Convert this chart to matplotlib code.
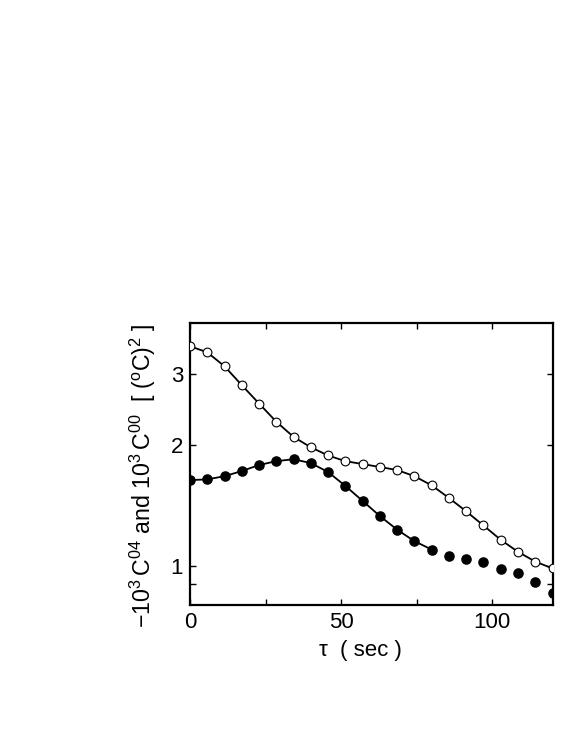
import numpy as np
import matplotlib.pyplot as plt
from matplotlib.ticker import FixedLocator, NullFormatter, FixedFormatter

plt.rcParams['font.family'] = ['Liberation Sans', 'DejaVu Sans']
plt.rcParams['mathtext.fontset'] = 'custom'
plt.rcParams['mathtext.rm'] = 'Liberation Sans'
plt.rcParams['mathtext.it'] = 'Liberation Sans:italic'

# lag times (sec)
tau = [0.0, 5.71, 11.43, 17.14, 22.86, 28.57, 34.29, 40.0, 45.71, 51.43, 57.14,
       62.86, 68.57, 74.29, 80.0, 85.71, 91.43, 97.14, 102.86, 108.57, 114.29, 120.0]

# 10^3 C^00 (open circles)
c00 = [3.51, 3.39, 3.13, 2.81, 2.53, 2.28, 2.09, 1.97, 1.88, 1.82, 1.79,
       1.76, 1.73, 1.67, 1.585, 1.475, 1.366, 1.26, 1.161, 1.084, 1.025, 0.986]

# -10^3 C^04 (filled circles)
c04 = [1.633, 1.64, 1.67, 1.72, 1.78, 1.82, 1.84, 1.80, 1.71, 1.58, 1.45,
       1.33, 1.23, 1.152, 1.098, 1.061, 1.041, 1.021, 0.983, 0.958, 0.91, 0.855]

n_line04 = 15  # solid line drawn through the first points only

fig = plt.figure(figsize=(5.81, 7.52), dpi=100)
ax = fig.add_axes([0.327, 0.1955, 0.624, 0.3745])

ax.plot(tau, c00, '-', color='black', lw=1.3, zorder=2)
ax.plot(tau, c00, 'o', mfc='white', mec='black', mew=0.8, ms=6.3, zorder=3)
ax.plot(tau[:n_line04], c04[:n_line04], '-', color='black', lw=1.3, zorder=2)
ax.plot(tau, c04, 'o', color='black', ms=6.6, zorder=3)

ax.set_yscale('log')
ax.set_xlim(0, 120)
ax.set_ylim(0.8, 4.0)

ax.xaxis.set_major_locator(FixedLocator([0, 50, 100]))
ax.xaxis.set_minor_locator(FixedLocator([25, 75]))
ax.yaxis.set_major_locator(FixedLocator([1, 2, 3]))
ax.yaxis.set_major_formatter(FixedFormatter(['1', '2', '3']))
ax.yaxis.set_minor_locator(FixedLocator([0.9]))
ax.yaxis.set_minor_formatter(NullFormatter())

ax.tick_params(which='both', direction='in', top=True, right=True, labelsize=16,
               width=1.0, length=4.5)
ax.tick_params(which='major', pad=5)

for s in ax.spines.values():
    s.set_linewidth(1.6)

ax.set_xlabel('τ  ( sec )', fontsize=16)
ax.set_ylabel(r'$-10^3\,\mathrm{C}^{04}$ and $10^3\,\mathrm{C}^{00}$  [ ($^{\mathrm{o}}$C)$^2$ ]',
              fontsize=16.7)
ax.xaxis.set_label_coords(0.47, -0.125)
ax.yaxis.set_label_coords(-0.088, 0.46)

fig.savefig('out.png', dpi=100)
